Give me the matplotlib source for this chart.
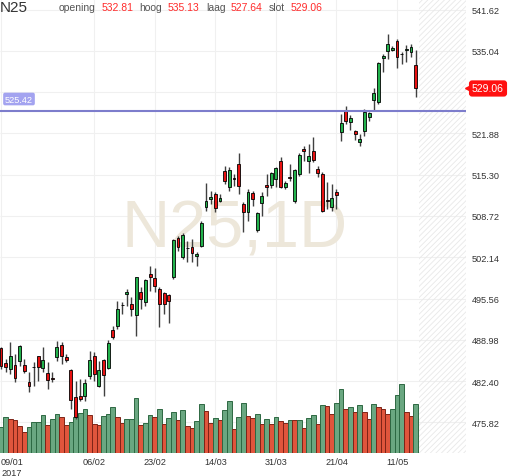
import numpy as np
import pandas as pd
import matplotlib
matplotlib.use('Agg')
import matplotlib.pyplot as plt
import matplotlib.transforms as mtrans

plt.rcParams['font.family'] = ['Liberation Sans', 'DejaVu Sans']
plt.rcParams['hatch.linewidth'] = 0.6

# --- data (N25, daily, 09/01/2017 - 17/05/2017) ---
holidays = ['2017-04-14', '2017-04-17', '2017-05-01']

opens = [487.67, 485.28, 484.32, 484.96, 485.59, 484.96, 482.25, 484.64, 486.39, 484.48,
         483.68, 482.88, 486.23, 488.15, 486.23, 484.16, 479.85, 480.01, 480.01, 483.20,
         486.39, 481.61, 485.75, 484.48, 490.54, 491.18, 494.53, 496.28, 494.69, 492.93,
         496.60, 495.01, 499.47, 498.83, 497.08, 496.44, 496.12, 498.99, 505.21, 502.18,
         503.62, 503.78, 502.34, 503.94, 510.16, 511.43, 512.23, 511.11, 515.90, 513.35,
         514.78, 517.01, 510.63, 509.36, 512.39, 506.49, 510.79, 513.66, 513.66, 514.62,
         517.49, 513.35, 514.94, 511.11, 515.42, 519.41, 517.49, 519.09, 516.22, 515.42,
         511.27, 510.16, 512.55, 522.12, 525.47, 523.71, 522.28, 520.52, 522.28, 524.51,
         527.22, 526.90, 533.92, 535.04, 535.20, 536.63, 534.56, 535.20, 534.88, 532.81]
highs = [487.83, 485.91, 488.62, 486.71, 488.15, 485.91, 483.84, 485.44, 486.39, 487.83,
         485.44, 483.84, 488.78, 488.62, 486.71, 484.32, 482.41, 482.72, 482.72, 487.19,
         487.03, 485.59, 485.91, 488.94, 491.18, 495.16, 495.01, 497.08, 495.80, 498.99,
         497.40, 498.67, 500.75, 500.43, 497.40, 496.60, 496.28, 505.05, 505.53, 506.01,
         504.73, 505.05, 502.98, 507.92, 513.98, 512.71, 512.55, 512.23, 516.70, 516.54,
         515.42, 518.77, 510.95, 513.03, 512.71, 509.36, 512.55, 515.42, 515.74, 516.54,
         518.13, 514.30, 517.01, 516.22, 518.77, 519.88, 520.20, 521.32, 516.70, 515.74,
         514.14, 513.82, 513.03, 524.99, 526.26, 524.83, 522.44, 521.80, 525.79, 525.31,
         529.14, 533.28, 534.56, 537.75, 535.83, 536.95, 534.88, 535.99, 536.15, 535.13]
lows = [484.32, 483.84, 483.52, 482.25, 484.80, 483.68, 480.65, 481.61, 482.41, 483.84,
        481.13, 482.25, 485.59, 485.12, 485.44, 477.94, 476.34, 479.22, 479.22, 482.72,
        482.41, 481.45, 480.01, 484.32, 489.10, 490.70, 493.09, 494.37, 492.77, 489.58,
        493.89, 494.37, 496.76, 496.60, 491.02, 493.09, 491.66, 498.67, 503.14, 501.86,
        501.38, 501.38, 500.75, 503.78, 509.52, 510.63, 509.36, 510.95, 513.82, 512.71,
        513.51, 512.23, 506.17, 507.92, 510.32, 506.17, 508.72, 511.91, 513.19, 513.35,
        513.19, 513.03, 514.30, 510.79, 515.10, 517.49, 515.58, 517.33, 514.94, 509.36,
        509.84, 509.52, 509.84, 520.68, 523.39, 522.44, 520.84, 519.88, 521.48, 523.87,
        525.47, 526.58, 531.69, 533.76, 535.04, 532.33, 532.96, 533.28, 534.08, 527.64]
closes = [484.80, 484.64, 486.39, 482.88, 487.99, 484.00, 481.61, 484.56, 484.64, 485.75,
          482.56, 482.80, 487.83, 486.39, 485.75, 479.37, 476.66, 479.53, 482.09, 485.75,
          483.52, 484.16, 483.36, 488.47, 489.42, 493.89, 494.45, 496.60, 493.89, 498.99,
          495.48, 498.51, 498.99, 497.56, 494.69, 494.69, 495.16, 504.89, 503.78, 505.69,
          503.54, 502.82, 502.66, 507.60, 511.11, 511.75, 510.00, 511.59, 514.30, 516.06,
          514.70, 513.51, 509.36, 512.55, 511.43, 509.20, 511.91, 513.35, 515.58, 516.38,
          513.35, 513.98, 514.86, 516.06, 518.45, 519.09, 518.29, 517.65, 515.58, 509.52,
          511.19, 511.59, 512.07, 523.55, 523.87, 524.35, 521.80, 521.00, 525.31, 525.15,
          528.34, 533.12, 534.24, 536.15, 535.51, 534.08, 534.48, 535.36, 535.67, 529.06]

# volume in chart units (no scale shown), G = up bar, R = down bar
volume = [26, 36, 34, 33, 27, 21, 26, 31, 31, 38, 28, 34, 39, 36, 28, 31, 36, 40, 44, 38,
          29, 28, 37, 39, 46, 36, 30, 34, 34, 55, 28, 30, 38, 36, 44, 29, 35, 41, 33, 43,
          27, 25, 32, 49, 42, 30, 35, 33, 43, 52, 24, 36, 50, 37, 35, 39, 29, 34, 29, 36,
          32, 30, 33, 33, 33, 25, 35, 38, 29, 48, 47, 39, 50, 64, 44, 46, 41, 48, 41, 34,
          49, 46, 44, 39, 44, 58, 69, 41, 37, 49]
vol_dir = ("GGRRRRGGGG" "RGGRRGGGGR" "RRGGGRRGGG" "RGGRGRGGRG" "RRGGR"
           "RGRGGRGGRR" "GRGRGRRGRG" "RGGRGRRGGR" "GRGRRGRRRG" "GGRRG")

level = 525.42
ytick_vals = [475.82, 482.40, 488.98, 495.56, 502.14, 508.72, 515.30, 521.88, 528.46, 535.04, 541.62]
xtick_dates = ['2017-01-09', '2017-02-06', '2017-02-23', '2017-03-14', '2017-03-31', '2017-04-21', '2017-05-11']

dates = pd.bdate_range('2017-01-09', '2017-05-17', freq='C', holidays=holidays)
x = np.arange(len(dates))
o = np.array(opens); h = np.array(highs); l = np.array(lows); c = np.array(closes)
pos = [dates.get_loc(pd.Timestamp(d)) for d in xtick_dates]

GREEN, RED = '#22b24c', '#e81212'
GRID = '#f0f0f0'

fig = plt.figure(figsize=(5.12, 4.77), dpi=100, facecolor='white')
rect = [0, 23 / 477, 466 / 512, 454 / 477]
axv = fig.add_axes(rect, label='vol')
ax = fig.add_axes(rect, label='price')
ax.patch.set_visible(False)
ax.set_xlim(-0.215, 99.8)
ax.set_ylim(470.92, 543.33)

# back layer: grid, hatch, watermark, volume
axv.set_xlim(-0.215, 99.8)
axv.set_ylim(0, 454)
axv.axis('off')
axv.hlines(ytick_vals, 0, 1, color=GRID, lw=0.8, zorder=0,
           transform=mtrans.blended_transform_factory(axv.transAxes, ax.transData))
axv.vlines(pos, 0, 1, color=GRID, lw=0.8, zorder=0,
           transform=mtrans.blended_transform_factory(axv.transData, axv.transAxes))
axv.add_patch(plt.Rectangle((89.7, 0), 10.1, 454, facecolor='none', edgecolor='#e8e8e8',
                            hatch='//////', lw=0, zorder=0))
axv.text(0.504, 1 - 248 / 454, 'N25,1D', transform=axv.transAxes, ha='center', va='baseline',
         fontsize=48, color='#ede7da', zorder=1)

vcol = ['#6aa781' if d == 'G' else '#e0553c' for d in vol_dir]
vedge = ['#2d6842' if d == 'G' else '#7e2417' for d in vol_dir]
axv.bar(x, volume, width=1.0, color=vcol, edgecolor=vedge, linewidth=0.7, zorder=2)

# candles
ax.vlines(x, l, h, color='#404040', lw=1.0, zorder=2)
up = c >= o
body_bot = np.minimum(o, c)
body_h = np.maximum(np.abs(c - o), 0.15)
ax.bar(x, body_h, bottom=body_bot, width=0.62, color=np.where(up, GREEN, RED),
       edgecolor='black', linewidth=0.6, zorder=3)

bt = mtrans.blended_transform_factory(ax.transAxes, ax.transData)
ax.axhline(level, color='#7d7dcc', lw=1.5, zorder=4)
ax.text(19 / 466, 527.38, f'{level:.2f}', transform=bt,
        ha='center', va='center', fontsize=6.6, color='white', zorder=5,
        bbox=dict(boxstyle='round,pad=0.2', facecolor='#a3a3f0', edgecolor='none'))

# last price box
ax.text(488 / 466, closes[-1], f'{closes[-1]:.2f}', transform=bt, ha='center', va='center',
        fontsize=7.5, color='white', clip_on=False,
        bbox=dict(boxstyle='round,pad=0.3', facecolor='#ff1010', edgecolor='none'))
ax.plot([468 / 466], [closes[-1]], marker='<', ms=4, color='#ff1010', transform=bt, clip_on=False)

# axes
ax.yaxis.tick_right()
ax.set_yticks(ytick_vals)
ax.set_yticklabels(['' if v == 528.46 else f'{v:.2f}' for v in ytick_vals])
labs = [pd.Timestamp(d).strftime('%d/%m') for d in xtick_dates]
labs[0] = labs[0] + '\n2017'
ax.set_xticks(pos)
ax.set_xticklabels(labs)
ax.get_xticklabels()[0].set_ha('left')
ax.tick_params(axis='both', length=0, labelsize=6.6, labelcolor='#333333')
ax.tick_params(axis='y', pad=4)
ax.tick_params(axis='x', pad=3)
for s in ax.spines.values():
    s.set_visible(False)

# header
fig.text(0, 1 - 12 / 477, 'N25', fontsize=11, color='#333333', va='baseline')
hdr = [(59, 'opening', '#555555'), (102, f'{opens[-1]:.2f}', '#ff2a2a'),
       (139, 'hoog', '#555555'), (168, f'{highs[-1]:.2f}', '#ff2a2a'),
       (206, 'laag', '#555555'), (231, f'{lows[-1]:.2f}', '#ff2a2a'),
       (269, 'slot', '#555555'), (291, f'{closes[-1]:.2f}', '#ff2a2a')]
for px, t, col in hdr:
    fig.text(px / 512, 1 - 11 / 477, t, fontsize=7.5, color=col, va='baseline')

fig.savefig('out.png', dpi=100, facecolor='white')
